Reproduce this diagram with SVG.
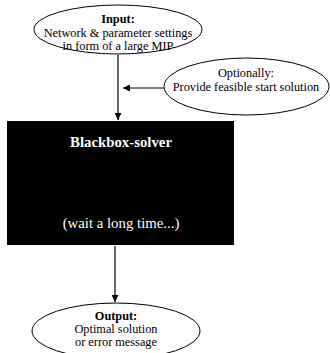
<svg xmlns="http://www.w3.org/2000/svg" width="330" height="353" viewBox="0 0 330 353">
<style>
text{font-family:"Liberation Serif","Times New Roman",serif;font-size:12.3px;text-anchor:middle;fill:#000}
.b{font-weight:bold}
.w{fill:#fff;font-size:14.8px}
.e{fill:#fff;stroke:#000;stroke-width:1}
.c{stroke:#000;stroke-width:1.2;fill:none}
</style>
<defs>
<marker id="ah" viewBox="0 0 10 10" refX="10" refY="5" markerWidth="7" markerHeight="7" markerUnits="userSpaceOnUse" orient="auto">
<path d="M0,0 L10,5 L0,10 z" fill="#000"/>
</marker>
</defs>
<rect width="330" height="353" fill="#fff"/>
<g id="connectors">
<line class="c" x1="118" y1="55" x2="118" y2="120" marker-end="url(#ah)"/>
<line class="c" x1="164" y1="88" x2="123" y2="88" marker-end="url(#ah)"/>
<line class="c" x1="115" y1="246" x2="115" y2="302" marker-end="url(#ah)"/>
</g>
<g id="input">
<ellipse class="e" cx="118" cy="29.5" rx="84" ry="24.5"/>
<text class="b" x="118" y="23">Input:</text>
<text x="118" y="36.5">Network &amp; parameter settings</text>
<text x="118" y="50">in form of a large MIP</text>
</g>
<g id="optional">
<ellipse class="e" cx="246.5" cy="86.5" rx="82.5" ry="28.5"/>
<text x="246" y="77">Optionally:</text>
<text x="246" y="90.5">Provide feasible start solution</text>
</g>
<g id="solver">
<rect x="7" y="121" width="227" height="124" fill="#000"/>
<text class="b w" x="121" y="147">Blackbox-solver</text>
<text class="w" x="121" y="228">(wait a long time...)</text>
</g>
<g id="output">
<ellipse class="e" cx="116" cy="331" rx="84" ry="28"/>
<text class="b" x="116" y="319.5">Output:</text>
<text x="116" y="333">Optimal solution</text>
<text x="116" y="346">or error message</text>
</g>
</svg>
